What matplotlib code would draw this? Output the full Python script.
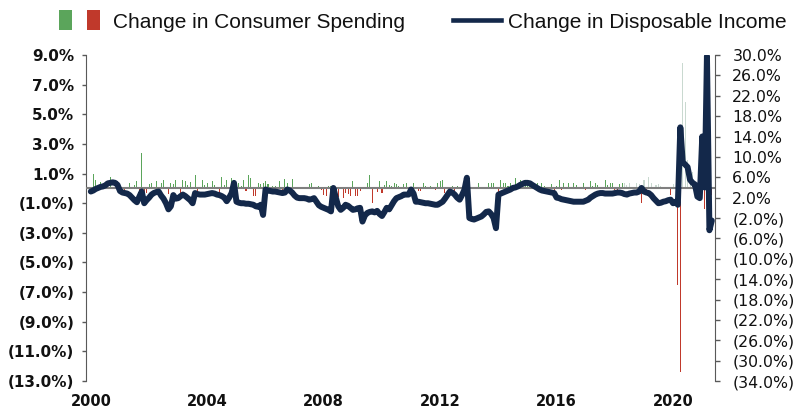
import matplotlib
matplotlib.use("Agg")
import matplotlib.pyplot as plt
import numpy as np
import pandas as pd
from matplotlib.lines import Line2D
from matplotlib.patches import Rectangle
from matplotlib.ticker import FuncFormatter

# Monthly change in consumer spending (%, left axis), Jan 2000 - May 2021
spending = [
    0.1, 1.0, 0.55, 0.1, 0.45, 0.1, 0.35, 0.1, 0.75, 0.1, 0.1, 0.5,          # 2000
    0.1, 0.1, -0.12, 0.1, 0.37, 0.1, 0.2, 0.48, -0.23, 2.36, -0.46, -0.3,   # 2001
    0.28, 0.37, 0.1, 0.48, 0.1, 0.37, 0.55, 0.1, -0.35, 0.37, 0.28, 0.55,   # 2002
    0.1, -0.53, 0.55, 0.5, 0.2, 0.45, 0.1, 0.9, -0.23, 0.1, 0.55, 0.2,      # 2003
    0.37, 0.1, 0.5, 0.2, 0.1, -0.35, 0.78, 0.2, 0.55, 0.1, 0.67, 0.1,       # 2004
    0.1, 0.37, 0.15, 0.55, -0.17, 0.9, 0.73, -0.53, -0.53, 0.33, 0.28, 0.33,  # 2005
    0.5, 0.28, 0.1, 0.15, 0.15, 0.05, 0.5, -0.17, 0.6, 0.37, 0.05, 0.6,     # 2006
    0.1, 0.05, 0.05, 0.1, 0.1, 0.05, 0.28, 0.37, 0.05, 0.05, 0.15, -0.1,    # 2007
    -0.46, -0.53, 0.15, 0.15, 0.05, 0.05, -0.57, 0.05, -0.68, -0.3, -0.35, -0.53,  # 2008
    0.5, -0.53, -0.53, -0.17, 0.05, 0.05, 0.33, 0.9, -0.98, 0.05, -0.25, 0.5,  # 2009
    -0.3, 0.2, 0.5, 0.2, 0.15, 0.33, 0.28, 0.15, 0.1, 0.28, 0.33, 0.1,      # 2010
    0.1, 0.37, 0.05, -0.17, -0.17, 0.33, 0.15, 0.05, 0.15, 0.1, -0.12, 0.33,  # 2011
    0.5, 0.55, -0.3, 0.05, -0.25, 0.15, -0.17, 0.15, 0.05, 0.1, 0.05, 0.05,  # 2012
    0.05, 0.05, 0.05, 0.05, 0.33, 0.05, 0.1, 0.1, 0.33, 0.37, 0.37, 0.05,   # 2013
    -0.35, 0.55, 0.33, 0.37, 0.15, 0.37, 0.1, 0.73, 0.2, 0.55, 0.15, 0.2,   # 2014
    0.37, 0.15, 0.1, 0.2, 0.37, 0.1, 0.37, 0.15, 0.05, 0.1, 0.28, -0.35,    # 2015
    0.15, 0.55, -0.1, 0.37, 0.1, 0.37, 0.1, 0.37, 0.2, 0.05, 0.1, 0.33,     # 2016
    -0.1, 0.1, 0.5, 0.15, 0.33, 0.2, 0.1, 0.05, 0.55, 0.2, 0.33, 0.33,      # 2017
    -0.12, -0.23, 0.28, 0.33, 0.33, 0.22, 0.33, 0.05, 0.1, 0.33, 0.28, -1.0,  # 2018
    0.55, -0.23, 0.78, 0.33, 0.1, 0.2, 0.28, 0.15, 0.1, 0.1, 0.1, -0.45,    # 2019
    0.28, 0.05, -6.54, -12.4, 8.44, 5.85, 1.9, 1.0, 1.1, 0.3, -0.4, -0.3,   # 2020
    2.0, -1.36, 4.0, 0.5, -0.46,                                            # 2021
]

# Year-over-year change in disposable income (%, right axis)
income = [
    3.2, 3.4, 3.7, 3.9, 4.1, 4.2, 4.4, 4.8, 4.9, 5.0, 4.9, 4.5,            # 2000
    3.3, 3.0, 2.9, 2.8, 2.5, 2.0, 1.5, 1.1, 2.2, 3.2, 0.9, 1.5,            # 2001
    2.0, 2.6, 2.9, 3.1, 3.2, 2.4, 1.8, 0.9, -0.3, 0.3, 2.5, 1.8,           # 2002
    1.9, 2.3, 2.6, 2.3, 1.9, 1.5, 0.9, 2.9, 2.7, 2.6, 2.6, 2.6,            # 2003
    2.7, 2.8, 2.9, 2.8, 2.6, 2.5, 2.3, 2.0, 1.3, 2.0, 2.9, 4.9,            # 2004
    1.2, 1.0, 0.9, 0.9, 0.8, 0.8, 0.7, 0.6, 0.3, 0.2, 0.6, -1.4,           # 2005
    3.6, 3.4, 3.3, 3.2, 3.2, 3.1, 3.0, 2.9, 3.0, 3.6, 3.4, 3.0,            # 2006
    2.4, 2.0, 1.9, 1.9, 1.9, 1.8, 1.6, 1.7, 1.9, 1.2, 0.5, 0.2,            # 2007
    0.0, -0.2, -0.4, -0.7, 3.9, 2.0, 0.3, -0.4, 0.0, 0.6, 0.4, 0.0,        # 2008
    -0.4, -0.3, -0.1, 0.0, -2.7, -1.5, -1.0, -0.8, -0.7, -0.9, -0.6, -1.2,  # 2009
    -1.6, -0.8, 0.0, -0.3, 0.5, 1.3, 1.9, 2.1, 2.3, 2.6, 2.6, 2.6,         # 2010
    3.6, 2.8, 1.2, 1.2, 1.1, 1.0, 0.9, 0.9, 0.8, 0.7, 0.6, 0.6,            # 2011
    0.9, 1.2, 1.8, 2.5, 3.2, 3.0, 2.6, 2.0, 1.6, 2.5, 3.6, 5.9,            # 2012
    -2.0, -2.2, -2.3, -2.1, -1.9, -1.7, -1.3, -0.8, -0.7, -1.2, -2.0, -4.0,  # 2013
    2.6, 2.8, 3.0, 3.2, 3.4, 3.6, 3.9, 4.0, 4.2, 4.5, 4.7, 4.9,            # 2014
    4.9, 4.8, 4.5, 4.2, 3.9, 3.6, 3.4, 3.3, 3.2, 3.1, 3.0, 2.9,            # 2015
    2.0, 1.9, 1.7, 1.6, 1.5, 1.4, 1.3, 1.2, 1.2, 1.2, 1.2, 1.2,            # 2016
    1.4, 1.6, 2.0, 2.3, 2.6, 2.8, 2.9, 2.9, 2.8, 2.8, 2.8, 2.8,            # 2017
    2.9, 3.0, 3.0, 2.9, 2.7, 2.6, 2.8, 2.9, 3.0, 3.0, 3.2, 3.9,            # 2018
    3.2, 3.0, 2.9, 2.5, 1.9, 1.4, 0.9, 1.0, 1.2, 1.3, 1.5, 1.6,            # 2019
    0.9, 1.2, 0.6, 15.8, 9.0, 8.5, 8.0, 5.5, 4.9, 4.6, 2.2, 1.9,           # 2020
    14.0, 4.0, 29.8, -4.4, -2.5,                                           # 2021
]

months = pd.date_range("2000-01-01", periods=len(spending), freq="MS")
year_ticks = [2000, 2004, 2008, 2012, 2016, 2020]

GREEN = "#5ba55b"
RED = "#c0392b"
PALE = "#c9d9d0"
NAVY = "#13284a"
SPINE = "#595959"


def pct_label(v, _pos=None):
    if v < 0:
        return f"({-v:.1f}%)"
    return f"{v:.1f}%"


fig = plt.figure(figsize=(8.08, 4.12), dpi=100)
ax = fig.add_axes([0.1064, 0.0752, 0.7785, 0.7913])
ax2 = ax.twinx()

spend = np.array(spending)
colors = []
for i, v in enumerate(spend):
    if v < 0:
        colors.append(RED)
    elif months[i] >= pd.Timestamp("2018-05-01"):
        colors.append(PALE)
    else:
        colors.append(GREEN)

ax.bar(months, spend, width=13, color=colors, linewidth=0, zorder=2)
ax.axhline(0, color="#7f7f7f", linewidth=1.5, zorder=3)

ax2.plot(months, income, color=NAVY, linewidth=4.3, solid_capstyle="round",
         solid_joinstyle="round", zorder=4)

ax.set_xlim(pd.Timestamp("1999-11-01"), pd.Timestamp("2021-06-10"))
ax.set_ylim(-13, 9)
ax2.set_ylim(-34, 30)
ax.set_yticks(np.arange(-13, 10, 2))
ax2.set_yticks(np.arange(-34, 31, 4))
ax.yaxis.set_major_formatter(FuncFormatter(pct_label))
ax2.yaxis.set_major_formatter(FuncFormatter(pct_label))

ax.set_xticks([pd.Timestamp(f"{y}-01-01") for y in year_ticks])
ax.set_xticklabels([str(y) for y in year_ticks])

for a in (ax, ax2):
    a.spines["top"].set_visible(False)
    a.spines["bottom"].set_visible(False)
ax.spines["right"].set_visible(False)
ax.spines["left"].set_color(SPINE)
ax2.spines["right"].set_color(SPINE)
ax2.spines["left"].set_visible(False)

ax.tick_params(axis="y", length=3, width=1, color=SPINE, pad=5.5,
               labelsize=11, labelcolor="#111111")
for lbl in ax.get_yticklabels():
    lbl.set_fontweight("bold")
ax.tick_params(axis="x", length=0, pad=9, labelsize=10.5, labelcolor="#111111")
for lbl in ax.get_xticklabels():
    lbl.set_fontweight("bold")
ax2.tick_params(axis="y", length=3.5, width=1, color=SPINE, pad=9,
                labelsize=11.3, labelcolor="#111111")

# legend drawn along the top edge
W, H = 808, 412
fig.add_artist(Rectangle((59 / W, 1 - 30 / H), 13 / W, 20 / H,
                         transform=fig.transFigure, color=GREEN, lw=0))
fig.add_artist(Rectangle((87 / W, 1 - 30 / H), 13 / W, 20 / H,
                         transform=fig.transFigure, color=RED, lw=0))
fig.text(113 / W, 1 - 27.5 / H, "Change in Consumer Spending",
         family="Liberation Sans", fontsize=15, va="baseline", color="#111111")
fig.add_artist(Line2D([453 / W, 501 / W], [1 - 20 / H] * 2,
                      transform=fig.transFigure, color=NAVY, lw=3.3))
fig.text(508 / W, 1 - 27.5 / H, "Change in Disposable Income",
         family="Liberation Sans", fontsize=15, va="baseline", color="#111111")

fig.savefig("out.png", dpi=100)
